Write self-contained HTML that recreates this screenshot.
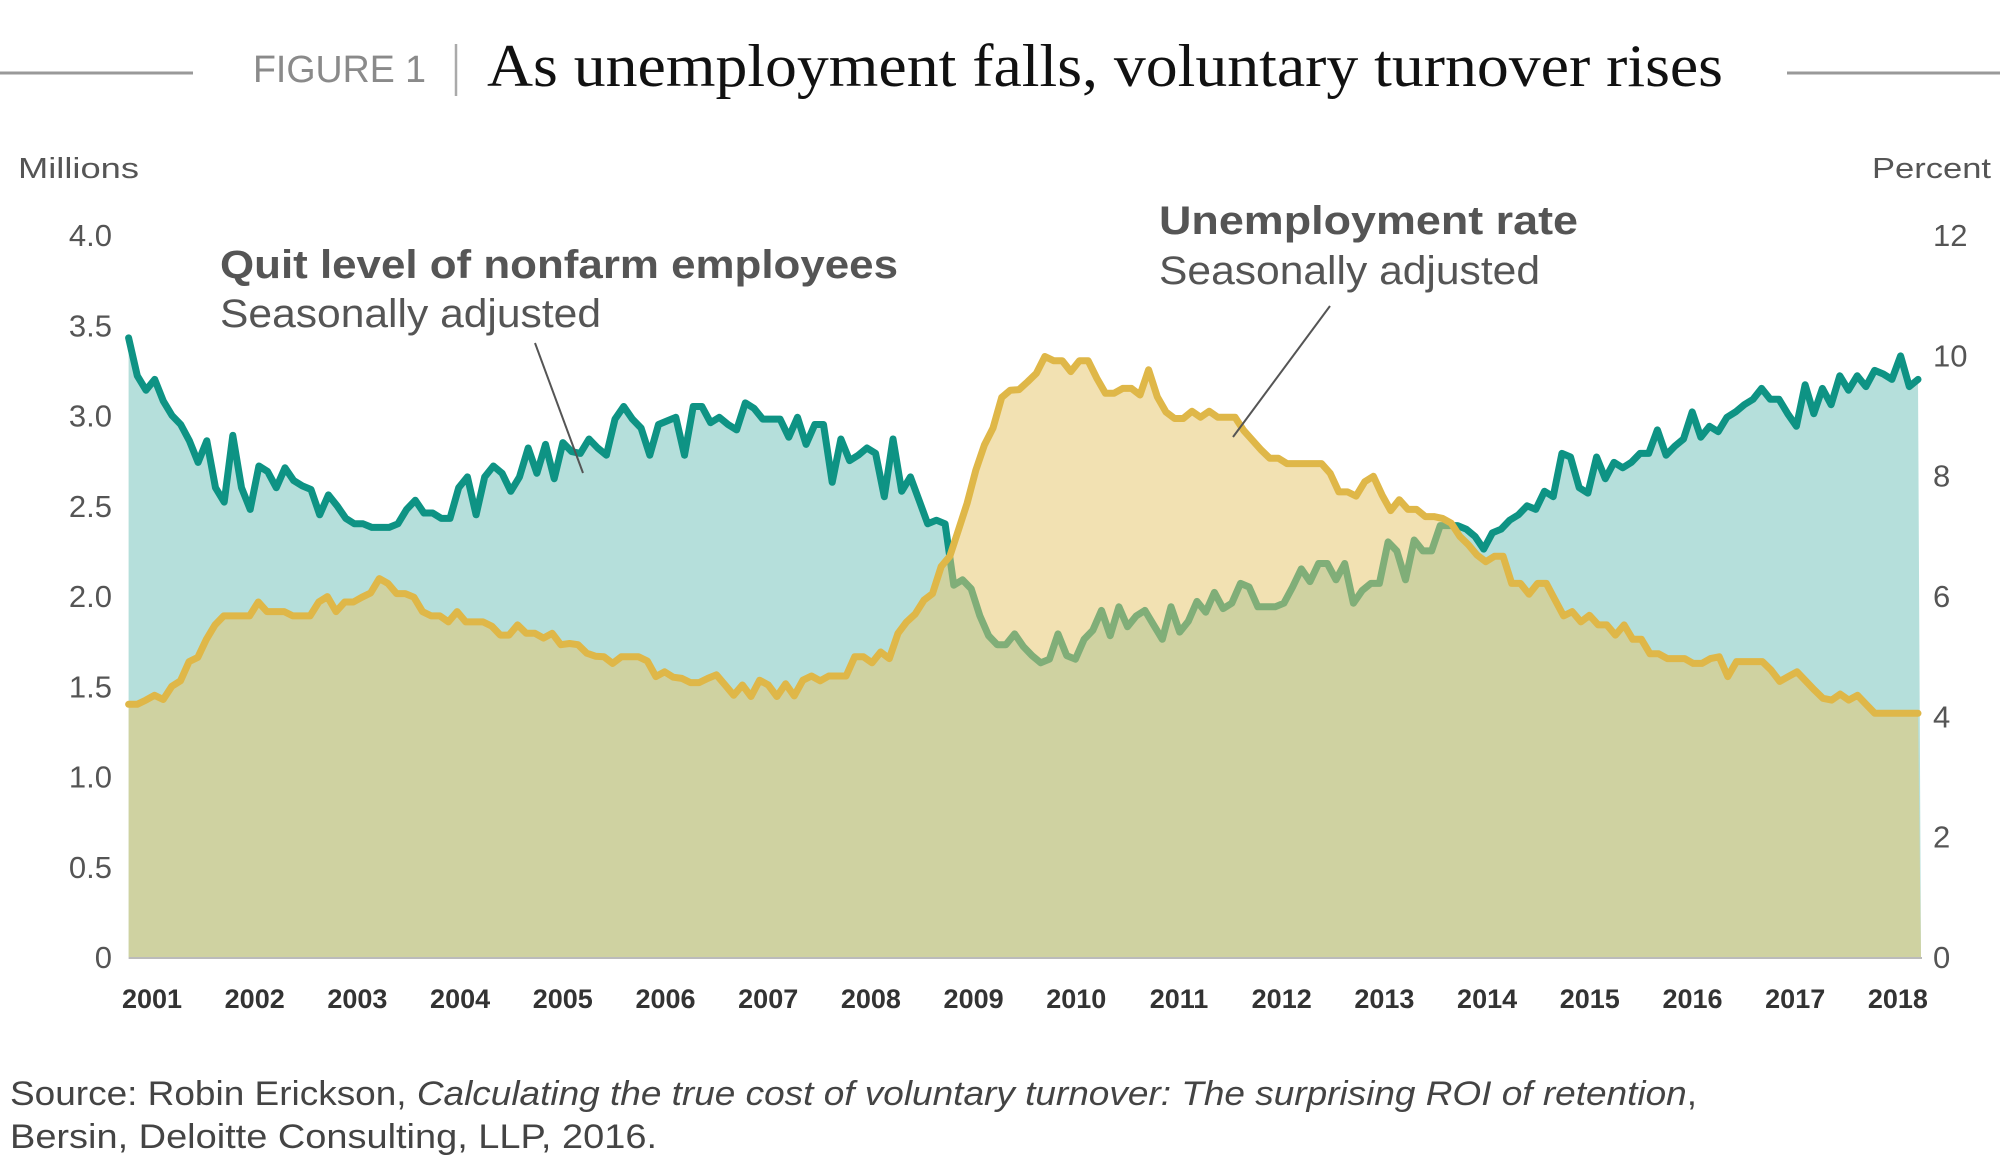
<!DOCTYPE html>
<html><head><meta charset="utf-8">
<style>
html,body{margin:0;padding:0;background:#fff;}
svg{display:block;}
</style></head>
<body>
<svg id="chart" width="2000" height="1157" viewBox="0 0 2000 1157" xmlns="http://www.w3.org/2000/svg" font-family="Liberation Sans, sans-serif">
<line x1="0" y1="73" x2="193" y2="73" stroke="#999" stroke-width="3"/>
<line x1="1787" y1="73" x2="2000" y2="73" stroke="#999" stroke-width="3"/>
<text x="253" y="82" font-size="38" fill="#8a8a8a" textLength="173" lengthAdjust="spacingAndGlyphs">FIGURE 1</text>
<line x1="456" y1="44" x2="456" y2="96" stroke="#aaa" stroke-width="2.5"/>
<text x="487" y="86" font-size="60" fill="#111" font-family="Liberation Serif, serif" textLength="1236" lengthAdjust="spacingAndGlyphs">As unemployment falls, voluntary turnover rises</text>
<text x="18" y="178" font-size="29" fill="#555" textLength="121" lengthAdjust="spacingAndGlyphs">Millions</text>
<text x="1872" y="178" font-size="29" fill="#555" textLength="119" lengthAdjust="spacingAndGlyphs">Percent</text>
<g id="plot"></g>
<g id="axes"></g>
<line x1="535" y1="343" x2="583" y2="473" stroke="#555" stroke-width="2"/>
<line x1="1330" y1="306" x2="1233" y2="437" stroke="#555" stroke-width="2"/>
<text x="220" y="278" font-size="40" font-weight="bold" fill="#555" textLength="678" lengthAdjust="spacingAndGlyphs">Quit level of nonfarm employees</text>
<text x="220" y="327" font-size="40" fill="#555" textLength="381" lengthAdjust="spacingAndGlyphs">Seasonally adjusted</text>
<text x="1159" y="234" font-size="40" font-weight="bold" fill="#555" textLength="419" lengthAdjust="spacingAndGlyphs">Unemployment rate</text>
<text x="1159" y="284" font-size="40" fill="#555" textLength="381" lengthAdjust="spacingAndGlyphs">Seasonally adjusted</text>
<text x="10" y="1105" font-size="34" fill="#444" textLength="1687" lengthAdjust="spacingAndGlyphs">Source: Robin Erickson, <tspan font-style="italic">Calculating the true cost of voluntary turnover: The surprising ROI of retention</tspan>,</text>
<text x="10" y="1148" font-size="34" fill="#444" textLength="647" lengthAdjust="spacingAndGlyphs">Bersin, Deloitte Consulting, LLP, 2016.</text>
</svg>
<script>
const quits = [3.43,3.22,3.14,3.20,3.08,3.00,2.95,2.86,2.74,2.86,2.60,2.52,2.89,2.60,2.48,2.72,2.69,2.60,2.71,2.64,2.61,2.59,2.45,2.56,2.50,2.43,2.40,2.40,2.38,2.38,2.38,2.40,2.48,2.53,2.46,2.46,2.43,2.43,2.60,2.66,2.45,2.66,2.72,2.68,2.58,2.66,2.82,2.68,2.84,2.65,2.85,
2.80,2.79,2.87,2.82,2.78,2.98,3.05,2.98,2.93,2.78,2.95,2.97,2.99,2.78,3.05,3.05,2.96,2.99,2.95,2.92,3.07,3.04,2.98,2.98,2.98,2.88,2.99,2.84,2.95,2.95,2.63,2.87,2.75,2.78,2.82,2.79,2.55,2.87,2.58,2.66,2.53,2.40,2.42,2.40,
2.06,2.09,2.04,1.89,1.78,1.73,1.73,1.79,1.72,
1.67,1.63,1.65,1.79,1.67,1.65,1.76,1.81,1.92,1.78,1.94,1.83,1.89,1.92,1.84,1.76,1.94,1.80,1.86,1.97,1.91,2.02,1.93,1.96,2.07,2.05,1.94,1.94,1.94,1.96,2.05,2.15,2.08,2.18,2.18,2.09,2.18,1.96,2.03,2.07,2.07,2.30,2.25,2.09,2.31,2.25,2.25,2.39,2.39,2.39,2.37,
2.33,
2.26,2.35,2.37,2.42,2.45,2.50,2.48,2.58,2.55,2.79,2.77,2.60,2.57,2.77,2.65,2.74,2.71,2.74,2.79,2.79,2.92,2.78,2.83,2.87,3.02,2.88,2.94,2.91,2.99,3.02,3.06,3.09,3.15,3.09,3.09,3.01,2.94,3.17,3.01,3.15,3.06,3.22,3.14,3.22,3.16,3.25,3.23,3.20,3.33,3.16,3.20];
const unemployment = [4.20,4.20,4.27,4.35,4.28,4.50,4.59,4.91,4.98,5.28,5.52,5.67,5.67,5.67,5.67,5.90,5.74,5.74,5.74,5.67,5.67,5.67,5.90,5.99,5.74,5.90,5.90,5.98,6.05,6.29,6.21,6.04,6.04,5.98,5.74,5.67,5.67,5.57,5.74,5.57,5.57,5.57,5.50,5.35,5.35,5.52,5.38,5.38,5.30,5.38,5.19,
5.21,5.19,5.05,5.00,4.99,4.88,4.99,4.99,4.99,4.92,4.66,4.74,4.65,4.63,4.56,4.56,4.63,4.69,4.52,4.35,4.52,4.33,4.60,4.52,4.33,4.54,4.34,4.60,4.67,4.59,4.67,4.67,4.67,4.99,4.99,4.89,5.07,4.96,5.38,5.57,5.70,5.93,6.04,
6.49,6.66,7.10,7.54,8.09,8.51,8.79,9.30,9.42,9.43,
9.56,9.70,9.98,9.91,9.91,9.73,9.91,9.91,9.62,9.37,9.37,9.45,9.45,9.34,9.76,9.31,9.06,8.95,8.95,9.07,8.97,9.07,8.97,8.97,8.97,8.75,8.59,8.43,8.29,8.29,8.20,8.20,8.20,8.20,8.20,8.04,7.73,7.73,7.66,7.90,7.99,7.68,7.42,7.60,7.44,7.44,7.32,7.32,7.29,7.21,6.99,
6.85,
6.68,6.57,6.66,6.66,6.21,6.21,6.03,6.21,6.21,5.94,5.67,5.74,5.57,5.68,5.52,5.52,5.35,5.52,5.28,5.28,5.04,5.04,4.96,4.96,4.96,4.88,4.88,4.96,4.99,4.66,4.91,4.91,4.91,4.91,4.77,4.58,4.66,4.74,4.59,4.44,4.30,4.27,4.37,4.27,4.35,4.20,4.05,4.05,4.05,4.05,4.05,4.05];
const years = ["2001","2002","2003","2004","2005","2006","2007","2008","2009","2010","2011","2012","2013","2014","2015","2016","2017","2018"];
const leftTicks = ["0","0.5","1.0","1.5","2.0","2.5","3.0","3.5","4.0"];
const rightTicks = ["0","2","4","6","8","10","12"];

const NS = "http://www.w3.org/2000/svg";
const X0 = 128.6, X1 = 1918, Y0 = 957, Y1 = 235;
function xIdx(i, n){ return X0 + i*(X1-X0)/(n-1); }
function yLeft(v){ return Y0 - v/4*(Y0-Y1); }
function yRight(v){ return Y0 - v/12*(Y0-Y1); }
function xYear(k){ return 152 + k*102.7; }
function mk(tag, attrs, parent){
  const e = document.createElementNS(NS, tag);
  for (const k in attrs) e.setAttribute(k, attrs[k]);
  parent.appendChild(e); return e;
}
const plot = document.getElementById('plot');
const axes = document.getElementById('axes');

function linePts(arr, yf){ return arr.map((v,i)=>xIdx(i,arr.length).toFixed(1)+','+yf(v).toFixed(1)).join(' '); }
function areaD(arr, yf){
  let d = 'M'+xIdx(0,arr.length).toFixed(1)+','+Y0;
  arr.forEach((v,i)=>{ d += ' L'+xIdx(i,arr.length).toFixed(1)+','+yf(v).toFixed(1); });
  d += ' L'+(xIdx(arr.length-1,arr.length)+3).toFixed(1)+','+Y0+' Z';
  return d;
}
const qa = mk('path', {d: areaD(quits, yLeft), fill:'#b5dfdb'}, plot);


const ql = mk('polyline', {points: linePts(quits, yLeft), fill:'none', stroke:'#0e9384', 'stroke-width':7, 'stroke-linejoin':'round', 'stroke-linecap':'round'}, plot);


const ua = mk('path', {d: areaD(unemployment, yRight), fill:'rgba(230,198,110,0.53)'}, plot);


const ul = mk('polyline', {points: linePts(unemployment, yRight), fill:'none', stroke:'#dfb748', 'stroke-width':7, 'stroke-linejoin':'round', 'stroke-linecap':'round'}, plot);



const base = mk('line', {x1:X0, y1:Y0+1, x2:1922, y2:Y0+1, stroke:'#bbb', 'stroke-width':2}, axes);



leftTicks.forEach((t,i)=>{
  const e = mk('text', {x:112, y:(yLeft(i*0.5)+11).toFixed(1), 'font-size':31, fill:'#555', 'text-anchor':'end'}, axes);
  e.textContent = t;
  
  
});
rightTicks.forEach((t,i)=>{
  const e = mk('text', {x:1933, y:(yRight(i*2)+11).toFixed(1), 'font-size':31, fill:'#555'}, axes);
  e.textContent = t;
  
  
});
years.forEach((t,k)=>{
  const e = mk('text', {x:xYear(k).toFixed(1), y:1008, 'font-size':27, 'font-weight':'bold', fill:'#333', 'text-anchor':'middle'}, axes);
  e.textContent = t;
  
  
});
</script>
</body></html>
